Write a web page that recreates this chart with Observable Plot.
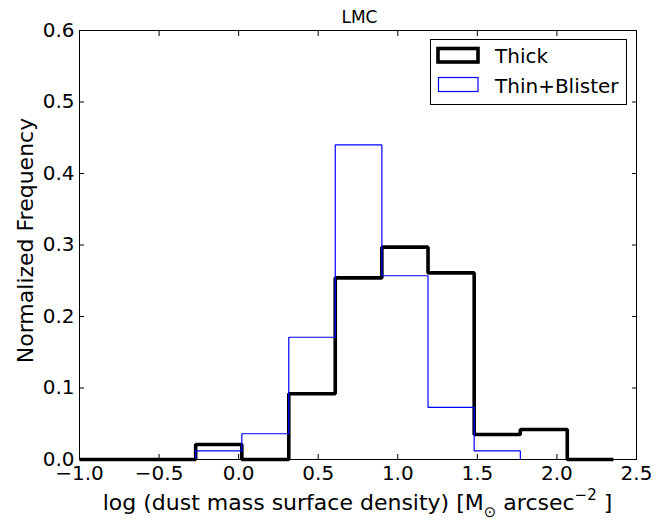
<!DOCTYPE html>
<html>
<head>
<meta charset="utf-8">
<script src="https://cdn.jsdelivr.net/npm/d3@7"></script>
<script src="https://cdn.jsdelivr.net/npm/@observablehq/plot@0.6"></script>
<style>
  body { margin: 0; background: #fff; }
  #chart { width: 670px; height: 520px; }
</style>
</head>
<body>
<div id="chart"></div>
<script>
// Bin edges and normalized frequencies
const thickEdges = [-1.0, -0.27, 0.02, 0.315, 0.607, 0.90, 1.19, 1.48, 1.77, 2.065, 2.355];
const thickValues = [0, 0.021, 0, 0.092, 0.254, 0.297, 0.261, 0.035, 0.042, 0];
const thinEdges = [-0.27, 0.02, 0.315, 0.607, 0.90, 1.19, 1.48, 1.77];
const thinValues = [0.012, 0.036, 0.171, 0.44, 0.257, 0.073, 0.012];
const xTicks = [-1.0, -0.5, 0.0, 0.5, 1.0, 1.5, 2.0, 2.5];
const yTicks = [0.0, 0.1, 0.2, 0.3, 0.4, 0.5, 0.6];
const seriesNames = ["Thick", "Thin+Blister"];
const titleText = "LMC";
const yLabel = "Normalized Frequency";

function stepPoints(edges, values) {
  const pts = [{x: edges[0], y: 0}];
  values.forEach((v, i) => pts.push({x: edges[i], y: v}));
  pts.push({x: edges[edges.length - 1], y: 0});
  return pts;
}
const thickPts = stepPoints(thickEdges, thickValues);
const thinPts = stepPoints(thinEdges, thinValues);

const W = 670, H = 520;
const mL = 79, mR = 34, mT = 30, mB = 61;
const fmt = d3.format(".1f");

const plot = Plot.plot({
  width: W,
  height: H,
  marginLeft: mL,
  marginRight: mR,
  marginTop: mT,
  marginBottom: mB,
  style: {fontFamily: "DejaVu Sans", fontSize: "20px", color: "black", background: "white"},
  x: {domain: [-1.0, 2.5]},
  y: {domain: [0, 0.6]},
  marks: [
    Plot.line(thickPts, {x: "x", y: "y", curve: "step-after", stroke: "black", strokeWidth: 3.6, strokeLinejoin: "miter", strokeLinecap: "butt"}),
    Plot.line(thinPts, {x: "x", y: "y", curve: "step-after", stroke: "#0000ff", strokeWidth: 1.2, strokeLinejoin: "miter"}),
    Plot.axisX(xTicks, {anchor: "bottom", tickSize: -5, tickPadding: 11, tickFormat: fmt, label: null, stroke: "black", fill: "black"}),
    Plot.axisX(xTicks, {anchor: "top", tickSize: -5, tickFormat: () => "", label: null, stroke: "black"}),
    Plot.axisY(yTicks, {anchor: "left", tickSize: -5, tickPadding: 10, tickFormat: fmt, label: null, stroke: "black", fill: "black"}),
    Plot.axisY(yTicks, {anchor: "right", tickSize: -5, tickFormat: () => "", label: null, stroke: "black"}),
    Plot.frame({stroke: "black", strokeWidth: 1})
  ]
});

document.getElementById("chart").appendChild(plot);

const svg = d3.select(plot);
const cx = mL + (W - mL - mR) / 2;
const cy = mT + (H - mT - mB) / 2;

// Title
svg.append("text")
  .attr("x", cx + 2).attr("y", 23)
  .attr("text-anchor", "middle")
  .attr("font-family", "DejaVu Sans").attr("font-size", 17)
  .attr("fill", "black")
  .text(titleText);

// Y label
svg.append("text")
  .attr("transform", `translate(25,${cy - 4}) rotate(-90)`)
  .attr("text-anchor", "middle")
  .attr("dominant-baseline", "central")
  .attr("font-family", "DejaVu Sans").attr("font-size", 22)
  .attr("fill", "black")
  .text(yLabel);

// X label with sub/superscripts
const xl = svg.append("text")
  .attr("x", cx).attr("y", 510)
  .attr("text-anchor", "middle")
  .attr("font-family", "DejaVu Sans").attr("font-size", 22)
  .attr("fill", "black");
xl.append("tspan").text("log (dust mass surface density) [M");
xl.append("tspan").attr("dy", 7).attr("font-size", 15).text("\u2299");
xl.append("tspan").attr("dy", -7).text(" arcsec");
xl.append("tspan").attr("dy", -10).attr("font-size", 15).text("\u22122");
xl.append("tspan").attr("dy", 10).text(" ]");

// Legend
const lg = svg.append("g").attr("text-anchor", "start");
lg.append("rect").attr("x", 430.5).attr("y", 39.5).attr("width", 196).attr("height", 65)
  .attr("fill", "white").attr("stroke", "black").attr("stroke-width", 1);
lg.append("rect").attr("x", 438).attr("y", 48.5).attr("width", 40).attr("height", 13.5)
  .attr("fill", "none").attr("stroke", "black").attr("stroke-width", 3.6);
lg.append("rect").attr("x", 438.5).attr("y", 77.5).attr("width", 39.5).attr("height", 14)
  .attr("fill", "none").attr("stroke", "#0000ff").attr("stroke-width", 1.2);
lg.append("text").attr("x", 495).attr("y", 63).attr("text-anchor", "start").attr("font-family", "DejaVu Sans").attr("font-size", 20)
  .attr("fill", "black").text(seriesNames[0]);
lg.append("text").attr("x", 495).attr("y", 93).attr("text-anchor", "start").attr("font-family", "DejaVu Sans").attr("font-size", 20)
  .attr("fill", "black").text(seriesNames[1]);
</script>
</body>
</html>
